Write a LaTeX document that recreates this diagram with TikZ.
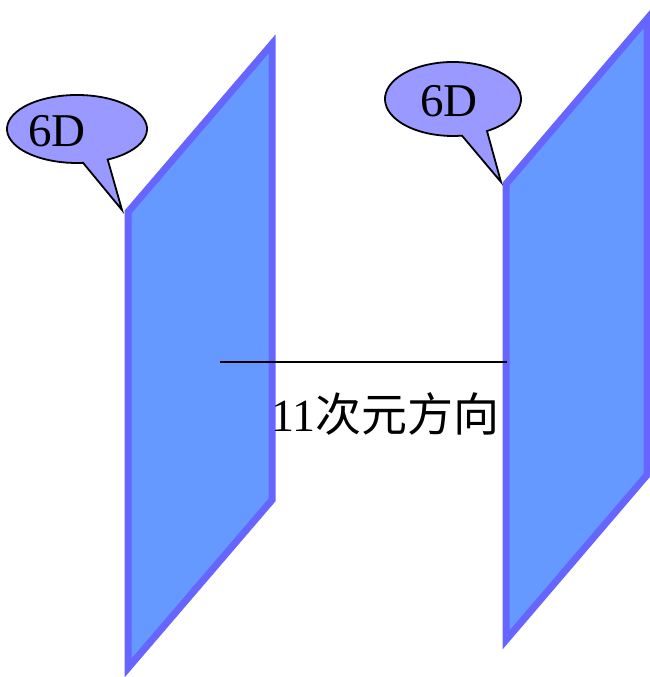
\documentclass[tikz,border=0pt]{standalone}
\usepackage{fontspec}
\setmainfont{Liberation Serif}
\newfontfamily\cjk{Noto Sans CJK SC}
\begin{document}
\begin{tikzpicture}[x=1pt,y=1pt,
  panel/.style={draw=panelstroke,fill=panelfill,line width=7pt,line join=miter},
  callout/.style={draw=black,fill=calloutfill,line width=1.8pt,line join=miter},
  lbl/.style={inner sep=0pt,font=\fontsize{47}{52}\selectfont},
  axis/.style={draw=black,line width=1.5pt}]
\definecolor{panelstroke}{HTML}{6666FF}
\definecolor{panelfill}{HTML}{6699FF}
\definecolor{calloutfill}{HTML}{9999FF}
\useasboundingbox (0,0) rectangle (650,677);
% left panel
\coordinate (l1) at (128,465);
\coordinate (l2) at (272,633);
\coordinate (l3) at (272,177);
\coordinate (l4) at (128,9);
\draw[panel] (l1) -- (l2) -- (l3) -- (l4) -- cycle;
% right panel
\coordinate (r1) at (506,493);
\coordinate (r2) at (647,658);
\coordinate (r3) at (647,202);
\coordinate (r4) at (506,37);
\draw[panel] (r1) -- (r2) -- (r3) -- (r4) -- cycle;
% axis line
\coordinate (a1) at (220,315);
\coordinate (a2) at (507,315);
\draw[axis] (a1) -- (a2);
\node[anchor=base west,inner sep=0pt,font=\fontsize{46}{52}\selectfont] (dir) at (271,245) {11{\cjk 次元方向}};
% callout 1
\coordinate (c1) at (77,548);
\coordinate (t1) at (122,467);
\draw[callout] (t1) -- ([shift={(c1)}]-64:70 and 34) arc[start angle=-64,end angle=275,x radius=70,y radius=34] -- cycle;
\node[lbl] (d1) at (57,546) {6D};
% callout 2
\coordinate (c2) at (453,578);
\coordinate (t2) at (501,495);
\draw[callout] (t2) -- ([shift={(c2)}]-60:68 and 37) arc[start angle=-60,end angle=277.6,x radius=68,y radius=37] -- cycle;
\node[lbl] (d2) at (449,576) {6D};
\end{tikzpicture}
\end{document}
